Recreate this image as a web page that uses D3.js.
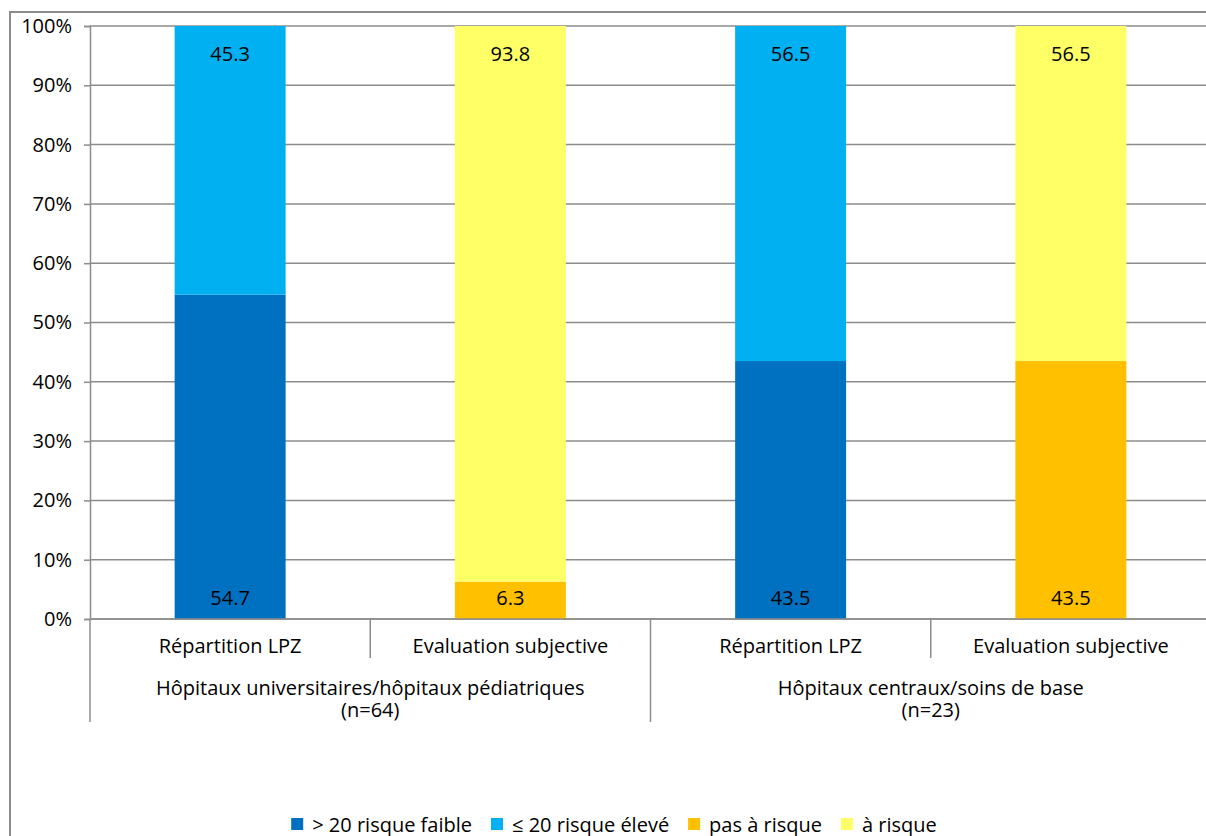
<!DOCTYPE html>
<html>
<head>
<meta charset="utf-8">
<script src="https://cdn.jsdelivr.net/npm/d3@7"></script>
<style>
  html, body { margin: 0; padding: 0; background: #fff; }
  svg { display: block; font-family: "Open Sans", "Noto Sans", sans-serif; }
</style>
</head>
<body>
<svg id="chart" width="1206" height="836"></svg>
<script>
// Bars, left to right
const bars = ["Répartition LPZ", "Evaluation subjective", "Répartition LPZ", "Evaluation subjective"];
const groups = ["Hôpitaux universitaires/hôpitaux pédiatriques\n(n=64)", "Hôpitaux centraux/soins de base\n(n=23)"];

// Lower and upper segment values (%) per bar
const lowerValues = [54.7, 6.3, 43.5, 43.5];
const upperValues = [45.3, 93.8, 56.5, 56.5];
// Series index for each bar: LPZ bars use the blue series, subjective bars the orange/yellow series
const lowerSeries = [0, 2, 0, 2];
const upperSeries = [1, 3, 1, 3];

const seriesNames = ["> 20 risque faible", "≤ 20 risque élevé", "pas à risque", "à risque"];
const seriesColors = ["#0070C0", "#00B0F0", "#FFC000", "#FFFF66"];

const yTicks = [0, 10, 20, 30, 40, 50, 60, 70, 80, 90, 100];

const svg = d3.select("#chart");
const plotLeft = 90, plotRight = 1211, plotTop = 26, plotBottom = 619;
const gridColor = "#8c8c8c";
const fs = 20;

// Outer frame
svg.append("rect")
  .attr("x", 10).attr("y", 12)
  .attr("width", 1300).attr("height", 900)
  .attr("fill", "none").attr("stroke", "#8c8c8c").attr("stroke-width", 2);

const x = d3.scaleBand().domain(d3.range(bars.length)).range([plotLeft, plotRight]).paddingInner(0).paddingOuter(0);
const y = d3.scaleLinear().domain([0, 100]).range([plotBottom, plotTop]).clamp(true);
const barW = x.bandwidth() * 0.396;

// Gridlines
svg.append("g").selectAll("line").data(yTicks).join("line")
  .attr("x1", plotLeft).attr("x2", plotRight)
  .attr("y1", d => y(d)).attr("y2", d => y(d))
  .attr("stroke", gridColor).attr("stroke-width", 1.5);

// Y axis
const yAxis = d3.axisLeft(y).tickValues(yTicks).tickFormat(d => d + "%").tickSize(6).tickPadding(12);
const gy = svg.append("g").attr("transform", `translate(${plotLeft},0)`).call(yAxis);
gy.select(".domain").attr("stroke", gridColor).attr("stroke-width", 1.5);
gy.selectAll(".tick line").attr("stroke", gridColor).attr("stroke-width", 1.5);
gy.selectAll(".tick text").attr("font-size", fs).attr("fill", "#000")
  .attr("font-family", "'Open Sans', sans-serif");

// Stacked bars
const barG = svg.append("g");
bars.forEach((b, i) => {
  const cx = x(i) + x.bandwidth() / 2;
  const lo = lowerValues[i], up = upperValues[i];
  barG.append("rect")
    .attr("x", cx - barW / 2).attr("width", barW)
    .attr("y", y(lo)).attr("height", y(0) - y(lo))
    .attr("fill", seriesColors[lowerSeries[i]]);
  barG.append("rect")
    .attr("x", cx - barW / 2).attr("width", barW)
    .attr("y", y(lo + up)).attr("height", y(lo) - y(lo + up))
    .attr("fill", seriesColors[upperSeries[i]]);
  // value labels: inside base for lower, inside end for upper
  barG.append("text")
    .attr("x", cx).attr("y", y(0) - 22)
    .attr("text-anchor", "middle").attr("dominant-baseline", "central")
    .attr("font-size", fs).text(lo.toFixed(1));
  barG.append("text")
    .attr("x", cx).attr("y", y(lo + up) + 27)
    .attr("text-anchor", "middle").attr("dominant-baseline", "central")
    .attr("font-size", fs).text(up.toFixed(1));
});

// Category axis
const ax = svg.append("g");
ax.append("line").attr("x1", plotLeft).attr("x2", plotRight).attr("y1", plotBottom).attr("y2", plotBottom)
  .attr("stroke", gridColor).attr("stroke-width", 1.5);
// short ticks between bars inside a group, long ticks between groups
d3.range(bars.length + 1).forEach(k => {
  const xx = k < bars.length ? x(k) : plotRight;
  const long = k % 2 === 0;
  ax.append("line").attr("x1", xx).attr("x2", xx)
    .attr("y1", plotBottom).attr("y2", long ? 722 : 658)
    .attr("stroke", gridColor).attr("stroke-width", 1.5);
});
bars.forEach((b, i) => {
  ax.append("text")
    .attr("x", x(i) + x.bandwidth() / 2).attr("y", 645)
    .attr("text-anchor", "middle").attr("dominant-baseline", "central")
    .attr("font-size", fs).text(b);
});
// group labels: one text element per group, one tspan per line
groups.forEach((g, j) => {
  const cx = (x(2 * j) + (2 * j + 2 < bars.length ? x(2 * j + 2) : plotRight)) / 2;
  const t = ax.append("text")
    .attr("text-anchor", "middle")
    .attr("font-size", fs);
  g.split("\n").forEach((line, l) => {
    t.append("tspan").attr("x", cx).attr("y", 695 + l * 22).text(line);
  });
});

// Legend
const legend = svg.append("g");
let lx = 0;
seriesNames.forEach((name, i) => {
  const it = legend.append("g");
  it.append("rect").attr("x", lx).attr("y", -6).attr("width", 12).attr("height", 12).attr("fill", seriesColors[i]);
  const t = it.append("text").attr("x", lx + 21).attr("y", 0)
    .attr("dominant-baseline", "central").attr("font-size", fs).text(name);
  lx += 21 + t.node().getComputedTextLength() + 19;
});
const legendW = lx - 19;
legend.attr("transform", `translate(${614 - legendW / 2},824)`);
</script>
</body>
</html>
